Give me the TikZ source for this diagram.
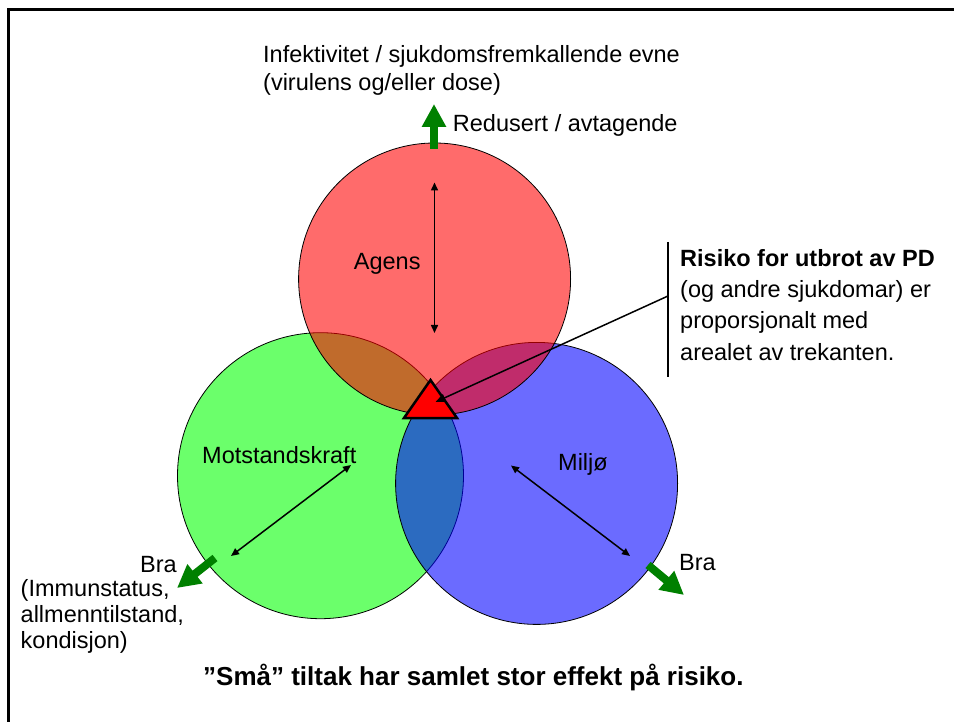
\documentclass[tikz,border=0pt]{standalone}
\usepackage{fontspec}
\setmainfont{Liberation Sans}
\usetikzlibrary{arrows.meta}
\definecolor{arrowgreen}{RGB}{0,128,0}
\begin{document}
\begin{tikzpicture}[x=1pt,y=-1pt,
  txt/.style={anchor=base west,inner sep=0pt,font=\fontsize{23.5}{28}\selectfont},
  btxt/.style={anchor=base west,inner sep=0pt,font=\fontsize{23.5}{28}\selectfont\bfseries},
  circ/.style={draw=black,line width=0.8pt,fill opacity=0.58},
  fat/.style={draw=arrowgreen,line width=8pt,-{Triangle[length=23pt,width=23pt,fill=arrowgreen]}},
  dbl/.style={draw=black,line width=1.5pt,{Triangle[length=8pt,width=7pt]}-{Triangle[length=8pt,width=7pt]}},
  callout/.style={draw=black,line width=1.5pt,-{Triangle[length=10pt,width=8pt]}},
  frameline/.style={draw=black,line width=3pt,line join=miter}
]
\useasboundingbox (0,0) rectangle (954,722);
\fill[white] (0,0) rectangle (954,722);
% frame
\coordinate (f1) at (954,10);
\coordinate (f2) at (8.5,10);
\coordinate (f3) at (8.5,722);
\draw[frameline] (f1) -- (f2) -- (f3);

% circle centres
\coordinate (rc) at (434.6,279);
\coordinate (gc) at (320.5,475.7);
\coordinate (bc) at (536.6,483.4);

% circles: green, blue, red (red on top)
\draw[circ,fill=green] (gc) circle[radius=143];
\draw[circ,fill=blue] (bc) circle[radius=141];
\draw[circ,fill=red] (rc) circle[radius=136];

% triangle
\coordinate (t1) at (430.5,380);
\coordinate (t2) at (404,418);
\coordinate (t3) at (457,418);
\draw[fill=red,draw=black,line width=2.5pt,line join=miter] (t1) -- (t2) -- (t3) -- cycle;

% black double arrows
\coordinate (ra1) at (434.5,182.5);
\coordinate (ra2) at (434.5,333);
\draw[dbl] (ra1) -- (ra2);
\coordinate (ga1) at (231,556);
\coordinate (ga2) at (351,465);
\draw[dbl] (ga1) -- (ga2);
\coordinate (ba1) at (511,465.5);
\coordinate (ba2) at (630,556);
\draw[dbl] (ba1) -- (ba2);

% green fat arrows
\coordinate (fa1) at (434,149);
\coordinate (fa2) at (434,104);
\draw[fat] (fa1) -- (fa2);
\coordinate (fg1) at (215,558);
\coordinate (fg2) at (177,588);
\draw[fat] (fg1) -- (fg2);
\coordinate (fb1) at (648,565);
\coordinate (fb2) at (684,595);
\draw[fat] (fb1) -- (fb2);

% callout
\coordinate (c1) at (668,296);
\coordinate (c2) at (435.5,402);
\draw[callout] (c1) -- (c2);
\coordinate (v1) at (668,242);
\coordinate (v2) at (668,377);
\draw[black,line width=1.5pt] (v1) -- (v2);

% texts
\node[txt] (inf1) at (263,63) {Infektivitet / sjukdomsfremkallende evne};
\node[txt] (inf2) at (263,91) {(virulens og/eller dose)};
\node[txt] (red) at (452.7,132) {Redusert / avtagende};
\node[txt] (agens) at (353.7,270) {Agens};
\node[txt] (mot) at (202,463) {Motstandskraft};
\node[txt] (mil) at (558,470) {Miljø};
\node[txt] (bral) at (140,572) {Bra};
\node[txt] (imm1) at (20.5,596) {(Immunstatus,};
\node[txt] (imm2) at (20.5,622) {allmenntilstand,};
\node[txt] (imm3) at (20.5,648) {kondisjon)};
\node[txt] (brar) at (679,570) {Bra};
\node[btxt] (ris1) at (680,267) {Risiko for utbrot av PD};
\node[txt] (ris2) at (680,298) {(og andre sjukdomar) er};
\node[txt] (ris3) at (680,329) {proporsjonalt med};
\node[txt] (ris4) at (680,360) {arealet av trekanten.};
\node[anchor=base west,inner sep=0pt,font=\fontsize{26}{30}\selectfont\bfseries] (bottom) at (203,685) {”Små” tiltak har samlet stor effekt på risiko.};
\end{tikzpicture}
\end{document}
